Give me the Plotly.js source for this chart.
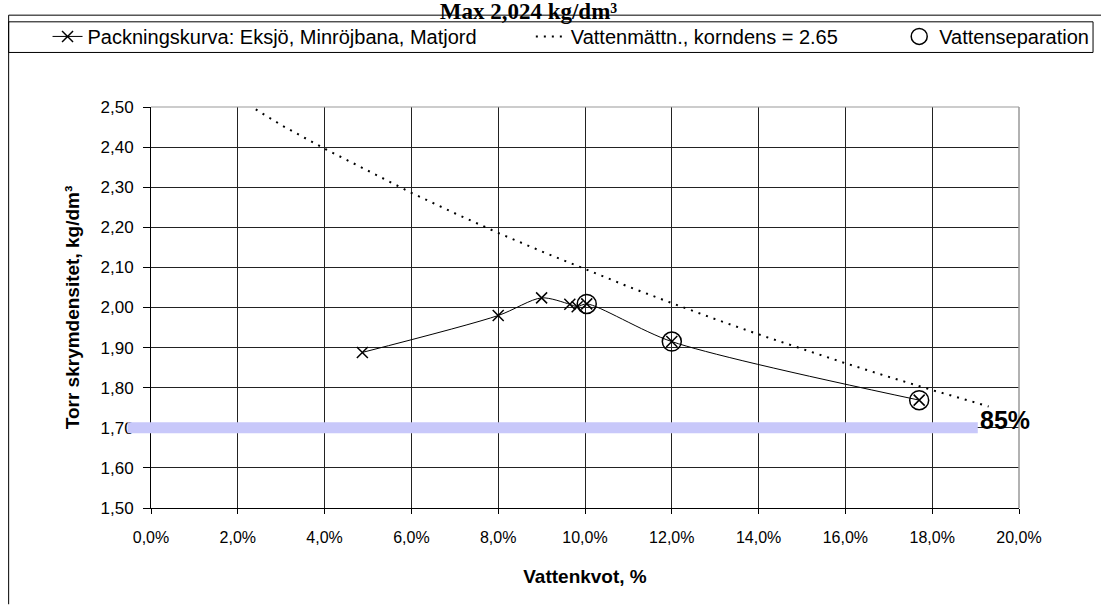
<!DOCTYPE html>
<html><head><meta charset="utf-8">
<script src="https://cdn.plot.ly/plotly-3.0.1.min.js"></script>
<style>html,body{margin:0;padding:0;background:#fff}#chart{width:1101px;height:614px}</style>
</head><body><div id="chart"></div>
<script>
// Packningskurva (water content, dry density)
const packX = [0.0487, 0.080, 0.090, 0.0965, 0.0982, 0.1004, 0.120, 0.177];
const packY = [1.888, 1.980, 2.024, 2.008, 2.002, 2.009, 1.915, 1.769];
// Vattenmättnadslinje, korndens 2.65
const satX = [0.021, 0.03, 0.04, 0.05, 0.06, 0.07, 0.08, 0.09, 0.10, 0.11, 0.12, 0.13, 0.14, 0.15, 0.16, 0.17, 0.18, 0.19, 0.193];
const satY = [2.515, 2.455, 2.396, 2.340, 2.286, 2.235, 2.186, 2.140, 2.095, 2.052, 2.011, 1.971, 1.933, 1.896, 1.861, 1.827, 1.794, 1.763, 1.753];
// Vattenseparation
const sepX = [0.1004, 0.120, 0.177];
const sepY = [2.009, 1.915, 1.769];
// 85 % band
const bandLevel = 1.70;
const bandX = [-0.0054, 0.1905];
const bandLabel = '85%';

const names = ['Packningskurva: Eksjö, Minröjbana, Matjord', 'Vattenmättn., korndens = 2.65', 'Vattenseparation'];
const xRange = [0, 0.20];
const yRange = [1.50, 2.50];

const toPaperX = v => (v - xRange[0]) / (xRange[1] - xRange[0]);

const traces = [
  {x: packX, y: packY, name: names[0], type: 'scatter', mode: 'lines+markers',
   line: {color: '#000', width: 1, shape: 'spline', smoothing: 0.8},
   marker: {symbol: 'x-thin', size: 11, color: '#000', line: {color: '#000', width: 1.5}},
   legend: 'legend', cliponaxis: false},
  {x: satX, y: satY, name: names[1], type: 'scatter', mode: 'lines',
   line: {color: '#000', width: 2, dash: '2px,6px'}, legend: 'legend2'},
  {x: sepX, y: sepY, name: names[2], type: 'scatter', mode: 'markers',
   marker: {symbol: 'circle-open', size: 19, color: '#000', line: {color: '#000', width: 1.5}},
   legend: 'legend3', cliponaxis: false}
];

const legBase = {xanchor: 'left', yanchor: 'middle', y: 1.176, bgcolor: 'rgba(0,0,0,0)', borderwidth: 0,
  font: {size: 20, family: 'Liberation Sans, Arial, sans-serif', color: '#000'}};

const layout = {
  width: 1101, height: 614,
  margin: {l: 151, r: 82, t: 107, b: 106, autoexpand: false},
  separators: ', ',
  paper_bgcolor: '#fff', plot_bgcolor: '#fff',
  font: {family: 'Liberation Sans, Arial, sans-serif', color: '#000', size: 15},
  showlegend: true,
  title: {text: 'Max 2,024 kg/dm³', font: {family: 'Liberation Serif, Times New Roman, serif', size: 23, weight: 'bold', color: '#000'},
          x: 0.48, xanchor: 'center', xref: 'container', y: 0.995, yref: 'container', yanchor: 'top', pad: {t: 0, b: 0}},
  xaxis: {range: xRange, tick0: 0, dtick: 0.02, tickformat: '.1%', showgrid: true, gridcolor: '#222', gridwidth: 1,
          showline: true, linecolor: '#000', linewidth: 1, ticks: 'outside', ticklen: 5, tickcolor: '#000', zeroline: false,
          tickfont: {size: 16}, automargin: false, ticklabelstandoff: 10,
          title: {text: 'Vattenkvot, %', font: {size: 19, weight: 'bold'}, standoff: 24}},
  yaxis: {range: yRange, tick0: 1.5, dtick: 0.1, tickformat: '.2f', showgrid: true, gridcolor: '#222', gridwidth: 1,
          showline: true, linecolor: '#000', linewidth: 1, ticks: 'outside', ticklen: 7, tickcolor: '#000', zeroline: false,
          tickfont: {size: 17}, automargin: false, ticklabelstandoff: 6,
          title: {text: 'Torr skrymdensitet, kg/dm³', font: {size: 19, weight: 'bold'}, standoff: 15}},
  legend: Object.assign({}, legBase, {x: -0.1192}),
  legend2: Object.assign({}, legBase, {x: 0.4376}),
  legend3: Object.assign({}, legBase, {x: 0.862}),
  shapes: [
    // chart area border (left + top)
    {type: 'line', xref: 'paper', yref: 'paper', x0: -0.164, x1: -0.164, y0: 1.229, y1: -0.24, line: {color: '#000', width: 1}},
    {type: 'line', xref: 'paper', yref: 'paper', x0: -0.164, x1: 1.1, y0: 1.229, y1: 1.229, line: {color: '#000', width: 1}},
    // legend box
    {type: 'rect', xref: 'paper', yref: 'paper', x0: -0.164, x1: 1.0853, y0: 1.136, y1: 1.2124, line: {color: '#000', width: 1}},
    // plot area top/right border
    {type: 'line', xref: 'paper', yref: 'paper', x0: 0, x1: 1, y0: 1, y1: 1, line: {color: '#999', width: 1}},
    {type: 'line', xref: 'paper', yref: 'paper', x0: 1, x1: 1, y0: 0, y1: 1, line: {color: '#999', width: 1.5}},
    // 85% band
    {type: 'line', xref: 'paper', yref: 'y', x0: toPaperX(bandX[0]), x1: toPaperX(bandX[1]), y0: bandLevel, y1: bandLevel,
     line: {color: '#c8c8fa', width: 11}, layer: 'above'}
  ],
  annotations: [
    {text: '<b>' + bandLabel + '</b>', x: bandX[1], y: bandLevel, xref: 'x', yref: 'y', xanchor: 'left', yanchor: 'bottom',
     yshift: -8, xshift: 0, showarrow: false, font: {size: 25, color: '#000', family: 'Liberation Sans, Arial, sans-serif'}}
  ]
};

Plotly.newPlot('chart', traces, layout, {displayModeBar: false, staticPlot: true});
</script></body></html>
